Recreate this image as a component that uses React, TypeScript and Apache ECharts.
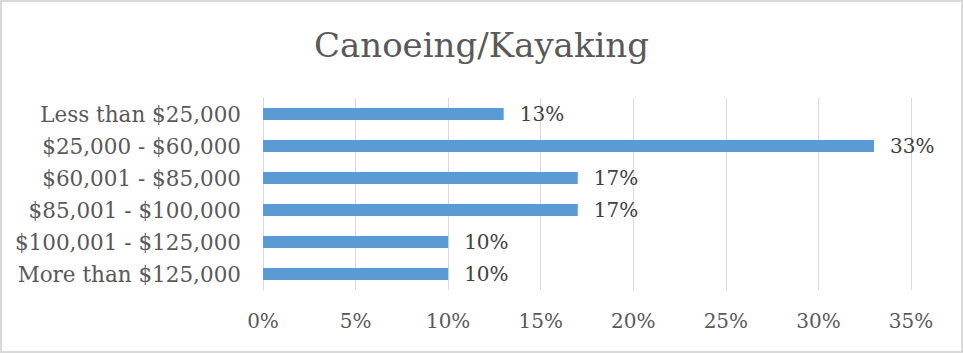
import React, { useEffect, useRef } from "react";
import * as echarts from "echarts";

const categories = [
  "Less than $25,000",
  "$25,000 - $60,000",
  "$60,001 - $85,000",
  "$85,001 - $100,000",
  "$100,001 - $125,000",
  "More than $125,000",
];
const values = [13, 33, 17, 17, 10, 10];
const xTicks = { min: 0, max: 35, interval: 5 };
const titleText = "Canoeing/Kayaking";

const FONT = "'DejaVu Serif', 'Liberation Serif', serif";

export default function App() {
  const ref = useRef<HTMLDivElement>(null);
  useEffect(() => {
    document.body.style.margin = "0";
    if (!ref.current) return;
    const chart = echarts.init(ref.current, undefined, { renderer: "svg" });
    chart.setOption({
      animation: false,
      backgroundColor: "#ffffff",
      title: {
        text: titleText,
        left: "center",
        top: 23,
        textStyle: {
          fontFamily: FONT,
          fontSize: 34,
          fontWeight: "normal",
          color: "#595959",
        },
      },
      grid: { left: 263, right: 52, top: 98, bottom: 63, containLabel: false },
      xAxis: {
        type: "value",
        min: xTicks.min,
        max: xTicks.max,
        interval: xTicks.interval,
        axisLine: { show: false },
        axisTick: { show: false },
        splitLine: { show: true, lineStyle: { color: "#d9d9d9", width: 1 } },
        axisLabel: {
          formatter: "{value}%",
          fontFamily: FONT,
          fontSize: 20,
          color: "#595959",
          margin: 21,
        },
      },
      yAxis: {
        type: "category",
        data: categories,
        inverse: true,
        axisLine: { show: true, lineStyle: { color: "#d9d9d9", width: 1 } },
        axisTick: { show: false },
        axisLabel: {
          fontFamily: FONT,
          fontSize: 21.5,
          color: "#595959",
          margin: 22,
        },
      },
      series: [
        {
          type: "bar",
          data: values,
          barWidth: 12,
          itemStyle: { color: "#5b9bd5" },
          label: {
            show: true,
            position: "right",
            distance: 16,
            formatter: "{c}%",
            fontFamily: FONT,
            fontSize: 20,
            color: "#404040",
          },
        },
      ],
    });
    return () => chart.dispose();
  }, []);
  return (
    <div style={{ position: "fixed", left: 0, top: 0, width: 963, height: 353, background: "#fff" }}>
      <div ref={ref} style={{ position: "absolute", left: 0, top: 0, width: 963, height: 353 }} />
      <div
        style={{
          position: "absolute",
          left: 0,
          top: 0,
          width: 963,
          height: 353,
          boxSizing: "border-box",
          border: "2px solid #d9d9d9",
          pointerEvents: "none",
        }}
      />
    </div>
  );
}
